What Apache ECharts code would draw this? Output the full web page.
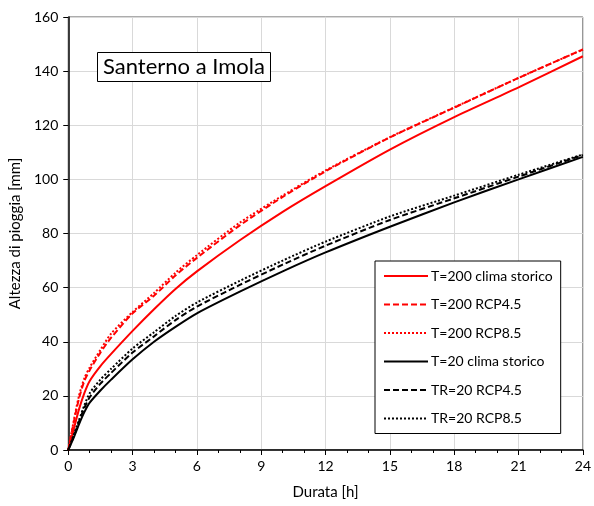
<!DOCTYPE html>
<html>
<head>
<meta charset="utf-8">
<script src="https://cdn.jsdelivr.net/npm/echarts@6/dist/echarts.min.js"></script>
<style>
html,body{margin:0;padding:0;background:#fff;}
#chart{width:594px;height:506px;}
</style>
</head>
<body>
<div id="chart"></div>
<script>
// Durata [h]
const durations = [0, 0.25, 0.5, 0.75, 1, 1.5, 2, 3, 4, 5, 6, 8, 10, 12, 15, 18, 21, 24];
// Altezza di pioggia [mm]
const t200Storico = [0, 7.5, 15, 21, 25.5, 31, 35.5, 44, 52, 59.5, 66, 77.5, 88, 97.5, 111, 123, 134, 145.5];
const t200Rcp45   = [0, 10, 19, 25.5, 29.5, 36, 41.5, 50.5, 57, 64.5, 71, 83, 93.5, 103, 115.5, 126.5, 137.5, 148];
const t200Rcp85   = [0, 10.5, 20, 26.5, 30.5, 37, 43, 51, 58, 65.5, 72, 84, 94, 103.3, 115.6, 126.6, 137.5, 148];
const t20Storico  = [0, 4.5, 9.5, 14, 17.5, 22, 26, 33.5, 40, 45.5, 50.5, 58.5, 66, 73, 82.5, 91.5, 100, 108.3];
const tr20Rcp45   = [0, 5, 10.5, 15.5, 19.5, 24.5, 28.5, 36, 42, 48, 53, 61, 68.5, 75.5, 85, 93, 101, 109];
const tr20Rcp85   = [0, 5.5, 11, 16.5, 21, 26, 30, 37.5, 43.5, 49.5, 54.5, 62.5, 70, 77, 86.3, 94, 101.7, 109.2];
const seriesNames = ['T=200 clima storico', 'T=200 RCP4.5', 'T=200 RCP8.5', 'T=20 clima storico', 'TR=20 RCP4.5', 'TR=20 RCP8.5'];
const xTicks = [0, 3, 6, 9, 12, 15, 18, 21, 24];
const yTicks = [0, 20, 40, 60, 80, 100, 120, 140, 160];
const chartTitle = 'Santerno a Imola';

const FONT = 'Lato, "Open Sans", sans-serif';
const pair = arr => durations.map((d, i) => [d, arr[i]]);
const mk = (name, data, color, type) => ({
  name, type: 'line', data: pair(data), smooth: 0.25, symbol: 'none',
  lineStyle: {color, width: 2, type},
  itemStyle: {color},
  z: 3
});

const chart = echarts.init(document.getElementById('chart'), null, {renderer: 'canvas'});
chart.setOption({
  backgroundColor: '#fff',
  animation: false,
  title: {
    text: chartTitle, left: 97, top: 52,
    borderColor: '#000', borderWidth: 1, padding: [4, 6, 4, 6],
    backgroundColor: '#fff',
    textStyle: {fontFamily: FONT, fontSize: 22, fontWeight: 'normal', color: '#000'}
  },
  grid: {left: 66, right: 9, top: 17, bottom: 56, show: true, borderColor: '#595959', borderWidth: 1},
  legend: {
    orient: 'vertical', left: 375, top: 261, width: 182,
    padding: [8, 8, 8, 8], itemGap: 14.5, itemWidth: 44, itemHeight: 14,
    borderColor: '#000', borderWidth: 1, backgroundColor: '#fff',
    itemStyle: {opacity: 0},
    data: seriesNames,
    textStyle: {fontFamily: FONT, fontSize: 14, color: '#000', padding: [0, 0, 0, -2]}
  },
  xAxis: {
    type: 'value', min: xTicks[0], max: xTicks[xTicks.length - 1], interval: 3,
    name: 'Durata [h]', nameLocation: 'middle', nameGap: 35,
    nameTextStyle: {fontFamily: FONT, fontSize: 15, color: '#000'},
    axisLine: {show: true, onZero: false, lineStyle: {color: '#000', width: 1.5}},
    axisTick: {show: true, inside: false, length: 5, lineStyle: {color: '#000', width: 1}},
    minorTick: {show: true, splitNumber: 3, length: 3, lineStyle: {color: '#000', width: 1}},
    axisLabel: {fontFamily: FONT, fontSize: 14, color: '#000', margin: 9},
    splitLine: {show: true, lineStyle: {color: '#d9d9d9', width: 1}}
  },
  yAxis: {
    type: 'value', min: yTicks[0], max: yTicks[yTicks.length - 1], interval: 20,
    name: 'Altezza di pioggia [mm]', nameLocation: 'middle', nameGap: 36,
    nameTextStyle: {fontFamily: FONT, fontSize: 15, color: '#000'},
    axisLine: {show: true, onZero: false, lineStyle: {color: '#000', width: 1.5}},
    axisTick: {show: true, inside: false, length: 5, lineStyle: {color: '#000', width: 1}},
    axisLabel: {fontFamily: FONT, fontSize: 14, color: '#000', margin: 10},
    splitLine: {show: true, lineStyle: {color: '#d9d9d9', width: 1}}
  },
  series: [
    mk(seriesNames[0], t200Storico, '#ff0000', 'solid'),
    mk(seriesNames[1], t200Rcp45, '#ff0000', [6, 3]),
    mk(seriesNames[2], t200Rcp85, '#ff0000', [2, 2]),
    mk(seriesNames[3], t20Storico, '#000000', 'solid'),
    mk(seriesNames[4], tr20Rcp45, '#000000', [6, 3]),
    mk(seriesNames[5], tr20Rcp85, '#000000', [2, 2])
  ]
});
</script>
</body>
</html>
